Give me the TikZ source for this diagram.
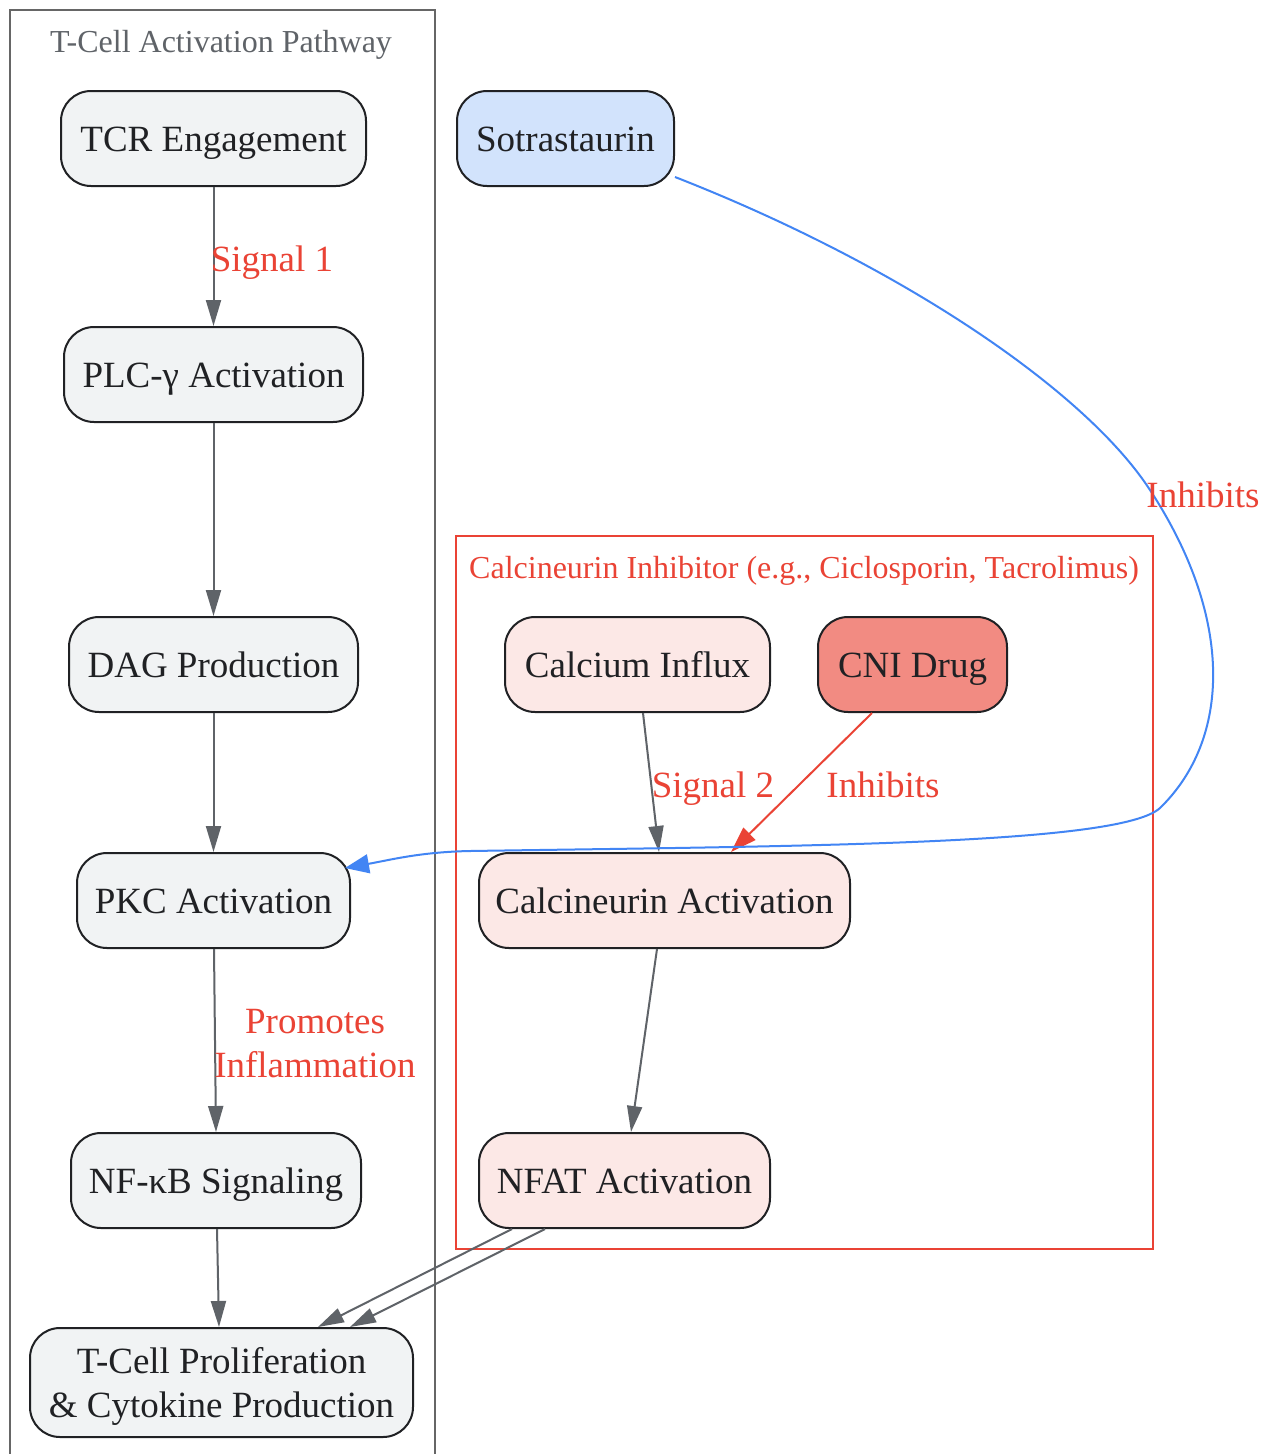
\documentclass[tikz,border=0pt]{standalone}
\usepackage{fontspec}
\setmainfont{Liberation Serif}
\usetikzlibrary{arrows.meta}
\definecolor{ink}{HTML}{202124}
\definecolor{edgegray}{HTML}{5F6368}
\definecolor{gred}{HTML}{EA4335}
\definecolor{gblue}{HTML}{4285F4}
\definecolor{nodegray}{HTML}{F1F3F4}
\definecolor{lblue}{HTML}{D2E3FC}
\definecolor{lred}{HTML}{FCE8E6}
\definecolor{mred}{HTML}{F28B82}
\definecolor{clgray}{HTML}{666666}
\begin{document}
\begin{tikzpicture}[x=1pt,y=-1pt,
  box/.style={draw=ink, line width=2pt, rounded corners=30pt, minimum height=95pt, inner sep=0pt, text=ink, font=\fontsize{37}{44}\selectfont, align=center, text height=26pt, text depth=0pt},
  twolines/.style={text height=70pt, text depth=0pt},
  graybox/.style={box, fill=nodegray},
  redbox/.style={box, fill=lred},
  flow/.style={draw=edgegray, line width=2pt, -{Triangle[length=26pt,width=15pt]}},
  redflow/.style={draw=gred, line width=2pt, -{Triangle[length=26pt,width=17pt]}},
  blueflow/.style={draw=gblue, line width=2pt, -{Triangle[length=24pt,width=19pt]}},
  elabel/.style={text=gred, font=\fontsize{37}{44}\selectfont, align=center, inner sep=0pt, text height=26pt, text depth=0pt},
  cllabel/.style={font=\fontsize{32}{38}\selectfont, inner sep=0pt, text height=22pt, text depth=0pt}
]
\useasboundingbox (0,0) rectangle (1268,1454);
\fill[white] (0,0) rectangle (1268,1454);

% clusters
\draw[clgray, line width=2pt] (10,1470) -- (10,10) -- (435,10) -- (435,1470);
\node[cllabel, text=edgegray] (cl1) at (221,41) {T-Cell Activation Pathway};
\draw[gred, line width=2pt] (456,536) rectangle (1153,1249);
\node[cllabel, text=gred] (cl2) at (804,567) {Calcineurin Inhibitor (e.g., Ciclosporin, Tacrolimus)};

% left nodes
\node[graybox, minimum width=305pt] (tcr) at (213.5,138.5) {TCR Engagement};
\node[graybox, minimum width=299pt] (plc) at (213.5,374.5) {PLC-γ Activation};
\node[graybox, minimum width=289pt] (dag) at (213.5,664.5) {DAG Production};
\node[graybox, minimum width=273pt] (pkc) at (213.5,900.5) {PKC Activation};
\node[graybox, minimum width=290pt] (nfkb) at (216,1180.5) {NF-κB Signaling};
\node[graybox, twolines, minimum width=383pt, minimum height=109pt] (tcell) at (221.5,1382.5) {T-Cell Proliferation\\\& Cytokine Production};

% right nodes
\node[box, fill=lblue, minimum width=217pt] (sot) at (565.5,138.5) {Sotrastaurin};
\node[redbox, minimum width=265pt] (ca) at (637.5,664.5) {Calcium Influx};
\node[box, fill=mred, minimum width=189pt] (cni) at (912.5,664.5) {CNI Drug};
\node[redbox, minimum width=371pt] (cn) at (664.5,900.5) {Calcineurin Activation};
\node[redbox, minimum width=291pt] (nfat) at (624.5,1180.5) {NFAT Activation};

% left chain
\draw[flow] (tcr.south) -- (plc.north);
\node[elabel] (l1) at (272,258) {Signal 1};
\draw[flow] (plc.south) -- (dag.north);
\draw[flow] (dag.south) -- (pkc.north);
\draw[flow] ([xshift=0.5pt]pkc.south) -- (nfkb.north);
\node[elabel, twolines] (l2) at (315,1042) {Promotes\\Inflammation};
\draw[flow] ([xshift=1pt]nfkb.south) -- ([xshift=-2.5pt]tcell.north);

% right chain
\draw[flow] ([xshift=5.5pt]ca.south) -- ([xshift=-5.5pt]cn.north);
\node[elabel] (l3) at (713,784) {Signal 2};
\draw[redflow] ([xshift=-40.5pt]cni.south) -- ([xshift=66.5pt]cn.north);
\node[elabel] (l4) at (883,784) {Inhibits};
\draw[flow] ([xshift=-7.5pt]cn.south) -- ([xshift=6.5pt]nfat.north);
\draw[flow] ([xshift=-112.5pt]nfat.south) -- ([xshift=96.5pt]tcell.north);
\draw[flow] ([xshift=-79.5pt]nfat.south) -- ([xshift=128.5pt]tcell.north);

% sotrastaurin inhibition
\coordinate (sotout) at ([yshift=-38.5pt]sot.east);
\coordinate (pkcin) at (345,868);
\draw[blueflow] (sotout) .. controls (900,265) and (1085,390) .. (1150,490)
  .. controls (1235,620) and (1230,740) .. (1160,808)
  .. controls (1120,845) and (800,846) .. (470,851)
  .. controls (420,852) and (390,860) .. (pkcin);
\node[elabel] (l5) at (1203,494) {Inhibits};
\end{tikzpicture}
\end{document}
